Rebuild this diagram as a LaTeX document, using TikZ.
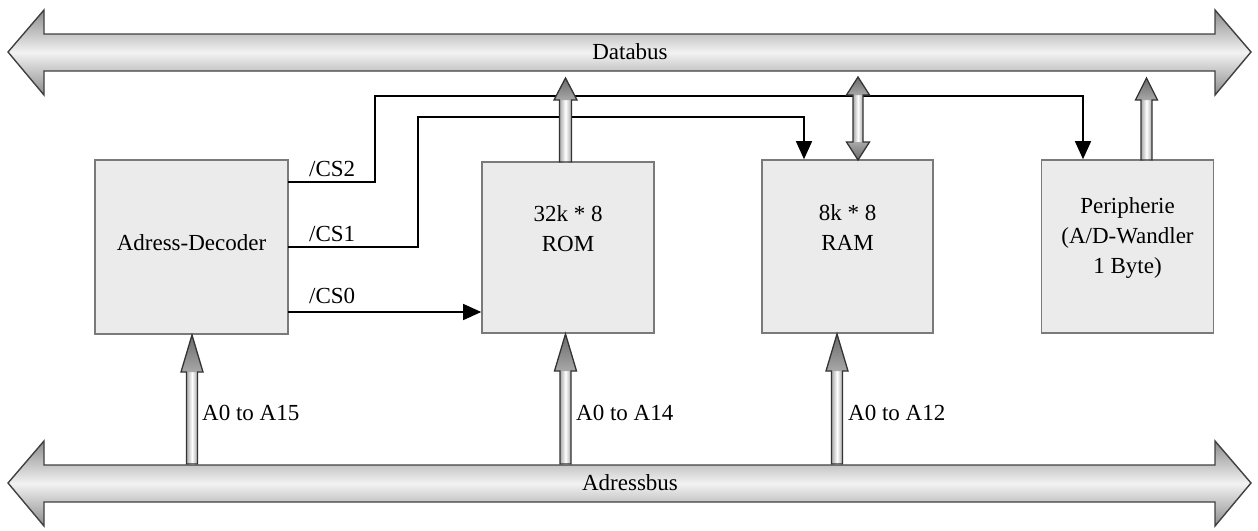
\documentclass[tikz,border=0pt]{standalone}
\usepackage{fontspec}
\setmainfont{Liberation Serif}
\usetikzlibrary{arrows.meta,calc}
\definecolor{boxfill}{HTML}{EBEBEB}
\definecolor{boxline}{HTML}{7A7A7A}
\definecolor{fatdark}{HTML}{6A6A6A}
\definecolor{fatmid}{HTML}{A8A8A8}
\tikzset{
  blk/.style={draw=boxline,line width=1.6pt,fill=boxfill,inner sep=0pt},
  txt/.style={align=center,inner sep=0pt,font=\fontsize{23}{30}\selectfont},
  lbl/.style={font=\fontsize{23}{27}\selectfont,inner sep=0pt},
  sig/.style={draw=black,line width=1.4pt},
  sigarr/.style={sig,-{Triangle[length=18pt,width=16pt]}},
  fatshaft/.style={left color=fatmid,right color=fatmid,middle color=white},
  fathead/.style={top color=fatdark,bottom color=fatmid},
  fatheadb/.style={top color=fatmid,bottom color=fatdark},
  fatline/.style={draw=black!80,line width=1.3pt},
  bus/.style={draw=black!75,line width=1.4pt,top color=black!45,bottom color=black!45,middle color=white!95!black},
}
% vertical fat arrow: #1 x, #2 bottom y, #3 tip y, #4 head length, #5 head half width, #6 shaft half width
\newcommand{\fatup}[6]{%
  \path[fatshaft] (#1-#6,#2) rectangle (#1+#6,#3+#4);
  \path[fathead] (#1-#5,#3+#4) -- (#1,#3) -- (#1+#5,#3+#4) -- cycle;
  \path[fatline] (#1-#6,#2) -- (#1-#6,#3+#4) -- (#1-#5,#3+#4) -- (#1,#3) -- (#1+#5,#3+#4)
    -- (#1+#6,#3+#4) -- (#1+#6,#2) -- cycle;}
\newcommand{\fatboth}[6]{%
  \path[fatshaft] (#1-#6,#2-#4) rectangle (#1+#6,#3+#4);
  \path[fathead] (#1-#5,#3+#4) -- (#1,#3) -- (#1+#5,#3+#4) -- cycle;
  \path[fatheadb] (#1-#5,#2-#4) -- (#1,#2) -- (#1+#5,#2-#4) -- cycle;
  \path[fatline] (#1-#6,#2-#4) -- (#1-#6,#3+#4) -- (#1-#5,#3+#4) -- (#1,#3) -- (#1+#5,#3+#4)
    -- (#1+#6,#3+#4) -- (#1+#6,#2-#4) -- (#1+#5,#2-#4) -- (#1,#2) -- (#1-#5,#2-#4) -- cycle;}
\newcommand{\busarrow}[1]{%
  \path[bus] (8,#1) -- (44,#1-42) -- (44,#1-18) -- (1215,#1-18) -- (1215,#1-42) -- (1251,#1)
    -- (1215,#1+43) -- (1215,#1+19) -- (44,#1+19) -- (44,#1+43) -- cycle;}
\begin{document}
\begin{tikzpicture}[x=1pt,y=-1pt]
\useasboundingbox (0,0) rectangle (1258,530);
% buses
\busarrow{52}
\node[lbl] (databus) at (630,52) {Databus};
\busarrow{483}
\node[lbl] (adressbus) at (630,483) {Adressbus};
% blocks
\node[blk,minimum width=193pt,minimum height=174pt] (dec) at (191.5,247) {};
\node[blk,minimum width=172pt,minimum height=171pt] (rom) at (568,247.5) {};
\node[blk,minimum width=171pt,minimum height=173pt] (ram) at (847.5,246.5) {};
\node[blk,minimum width=172pt,minimum height=173pt] (peri) at (1127.5,246.5) {};
\node[txt] (dect) at ($(dec.center)+(0,-4)$) {Adress-Decoder};
\node[txt] (romt) at ($(rom.center)+(0,-19)$) {32k * 8\\ROM};
\node[txt] (ramt) at ($(ram.center)+(0,-19)$) {8k * 8\\RAM};
\node[txt] (perit) at ($(peri.center)+(0,-9)$) {Peripherie\\(A/D-Wandler\\1 Byte)};
% chip select lines
\coordinate (cs2) at (288,182);
\coordinate (cs1) at (288,247);
\coordinate (cs0) at (288,312);
\coordinate (c2x) at (375,96);
\coordinate (c2t) at (1083,96);
\coordinate (c1x) at (418,117);
\coordinate (c1t) at (804,117);
\draw[sigarr] (cs2) -| (c2x) -- (c2t) -- (c2t |- peri.north);
\draw[sigarr] (cs1) -| (c1x) -- (c1t) -- (c1t |- ram.north);
\draw[sigarr] (cs0) -- (cs0 -| rom.west);
\node[lbl,anchor=base west] (l2) at (309,176) {/CS2};
\node[lbl,anchor=base west] (l1) at (309,241) {/CS1};
\node[lbl,anchor=base west] (l0) at (309,303) {/CS0};
% data side fat arrows
\fatup{565.5}{162}{78}{22}{11.5}{6}
\fatboth{858}{160}{77}{18}{11.5}{5}
\fatup{1146.5}{160}{78}{22}{11}{5.5}
% address side fat arrows
\fatup{192}{464}{335}{37}{11}{5.5}
\fatup{565.5}{464}{334}{37}{11}{5.5}
\fatup{837}{464}{334}{37}{11}{5.5}
\node[lbl,anchor=west] (la15) at (202,413) {A0 to A15};
\node[lbl,anchor=west] (la14) at (576,413) {A0 to A14};
\node[lbl,anchor=west] (la12) at (848,413) {A0 to A12};
\end{tikzpicture}
\end{document}
